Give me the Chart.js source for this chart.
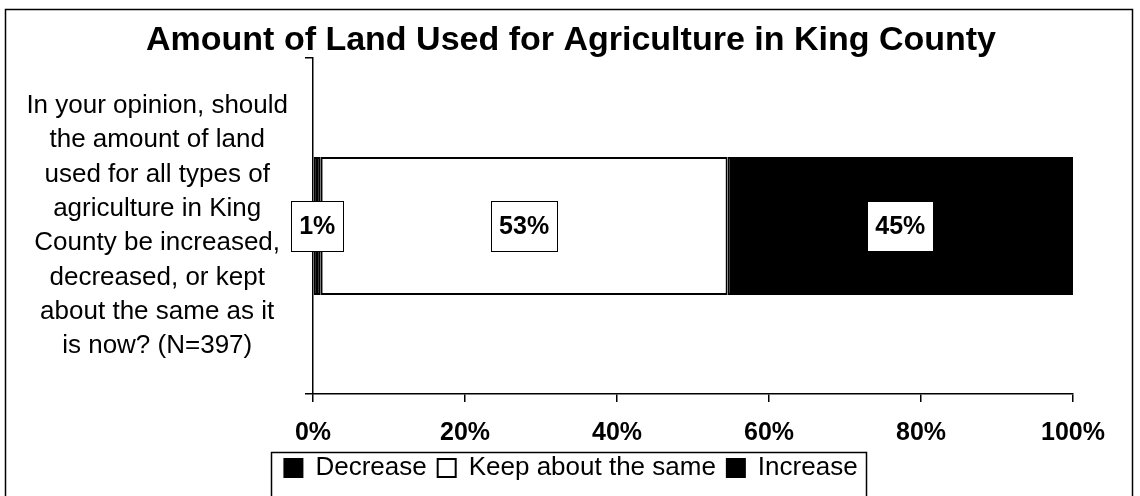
<!DOCTYPE html>
<html>
<head>
<meta charset="utf-8">
<script src="https://cdn.jsdelivr.net/npm/chart.js@4.4.0/dist/chart.umd.min.js"></script>
<style>
    html, body { margin: 0; padding: 0; background: #fff; }
    #wrap { position: relative; width: 1140px; height: 496px; }
</style>
</head>
<body>
<div id="wrap"><canvas id="myChart" width="1140" height="496"></canvas></div>
<script>
const categories = [['In your opinion, should', 'the amount of land', 'used for all types of',
    'agriculture in King', 'County be increased,', 'decreased, or kept',
    'about the same as it', 'is now? (N=397)']];
const seriesNames = ['Decrease', 'Keep about the same', 'Increase'];
const decreaseValues = [1];
const keepValues = [53];
const increaseValues = [45];
const valueLabels = [['1%'], ['53%'], ['45%']];
const tickLabels = ['0%', '20%', '40%', '60%', '80%', '100%'];

const FONT = '"Liberation Sans", Arial, sans-serif';
// bars are shown as shares of the whole, so the axis runs to the sum
const total = decreaseValues[0] + keepValues[0] + increaseValues[0];

const frameAndLegendBox = {
    id: 'frameAndLegendBox',
    beforeDraw: (chart) => {
        let ctx = chart.ctx;
        ctx.save();
        ctx.fillStyle = '#fff';
        ctx.fillRect(0, 0, chart.width, chart.height);
        ctx.strokeStyle = '#000';
        ctx.lineWidth = 1.5;
        ctx.strokeRect(5.5, 9.5, 1127, 500);
        ctx.restore();
    },
    afterDraw: (chart) => {
        let legend = chart.legend;
        let boxes = legend.legendHitBoxes;
        if (!boxes || !boxes.length) return;
        let left = Math.min(...boxes.map(b => b.left));
        let right = Math.max(...boxes.map(b => b.left + b.width));
        let ctx = chart.ctx;
        ctx.save();
        ctx.strokeStyle = '#000';
        ctx.lineWidth = 1.5;
        ctx.strokeRect(Math.round(left) - 12.5, Math.round(legend.top) + 8.5, Math.round(right - left) + 22, 80);
        ctx.restore();
    }
};

const boxedLabels = {
    id: 'boxedLabels',
    afterDatasetsDraw: (chart) => {
        let ctx = chart.ctx;
        ctx.save();
        ctx.font = 'bold 25px ' + FONT;
        ctx.textAlign = 'center';
        ctx.textBaseline = 'middle';
        chart.data.datasets.forEach((ds, i) => {
            let meta = chart.getDatasetMeta(i);
            meta.data.forEach((bar, j) => {
                let {x, y, base} = bar.getProps(['x', 'y', 'base'], true);
                let cx = (x + base) / 2;
                let text = valueLabels[i][j];
                let w = Math.round(ctx.measureText(text).width + 16);
                let h = 50;
                let left = Math.round(cx - w / 2) + 0.5;
                let top = Math.round(y - h / 2) + 0.5;
                ctx.fillStyle = '#fff';
                ctx.fillRect(left, top, w, h);
                ctx.strokeStyle = '#000';
                ctx.lineWidth = 1;
                ctx.strokeRect(left, top, w, h);
                ctx.fillStyle = '#000';
                ctx.fillText(text, cx, y + 1);
            });
        });
        ctx.restore();
    }
};

const createAChart = () => {
    let ctx = document.getElementById('myChart').getContext('2d');
    let seriesData = [decreaseValues, keepValues, increaseValues];
    let fills = ['#000', '#fff', '#000'];
    return new Chart(ctx, {
        type: 'bar',
        data: {
            labels: categories,
            datasets: seriesNames.map((name, i) => ({
                label: name,
                data: seriesData[i],
                backgroundColor: fills[i],
                borderColor: '#000',
                borderWidth: 2,
                borderSkipped: false,
                categoryPercentage: 1,
                barPercentage: 0.41
            }))
        },
        options: {
            indexAxis: 'y',
            responsive: false,
            animation: false,
            layout: {padding: {left: 6, right: 4, top: 9, bottom: 5}},
            scales: {
                x: {
                    stacked: true,
                    min: 0,
                    max: total,
                    afterBuildTicks: (scale) => {
                        scale.ticks = tickLabels.map((t, i) => ({value: i * total / (tickLabels.length - 1)}));
                    },
                    // labels sit lower than the library would put them, so pin the strip height
                    afterFit: (scale) => { scale.height = 50; },
                    ticks: {
                        callback: (v, i) => tickLabels[i],
                        autoSkip: false,
                        maxRotation: 0,
                        color: '#000',
                        padding: 20,
                        font: {family: FONT, size: 25, weight: 'bold', lineHeight: 0.9}
                    },
                    grid: {drawOnChartArea: false, color: '#000', lineWidth: 1.5, tickLength: 8},
                    border: {color: '#000', width: 1.5}
                },
                y: {
                    stacked: true,
                    afterFit: (scale) => {
                        scale.width = 307;
                        scale.paddingTop = 0;
                        scale.paddingBottom = 0;
                    },
                    ticks: {
                        color: '#000',
                        crossAlign: 'center',
                        padding: 17,
                        font: {family: FONT, size: 26, lineHeight: 1.32}
                    },
                    grid: {drawOnChartArea: false, color: '#000', lineWidth: 1.5, tickLength: 8, offset: true},
                    border: {color: '#000', width: 1.5}
                },
                // empty right-hand strip so the title and legend centre on the whole picture
                yRight: {
                    type: 'category',
                    position: 'right',
                    grid: {display: false},
                    border: {display: false},
                    ticks: {display: false},
                    afterFit: (scale) => { scale.width = 63; }
                }
            },
            plugins: {
                title: {
                    display: true,
                    text: 'Amount of Land Used for Agriculture in King County',
                    color: '#000',
                    font: {family: FONT, size: 34, weight: 'bold', lineHeight: 1},
                    padding: {top: 15, bottom: 0}
                },
                legend: {
                    position: 'bottom',
                    labels: {
                        color: '#000',
                        boxWidth: 18,
                        boxHeight: 18,
                        padding: 11,
                        font: {family: FONT, size: 26, lineHeight: 1}
                    }
                },
                tooltip: {enabled: false}
            }
        },
        plugins: [frameAndLegendBox, boxedLabels]
    });
};

createAChart();
</script>
</body>
</html>
